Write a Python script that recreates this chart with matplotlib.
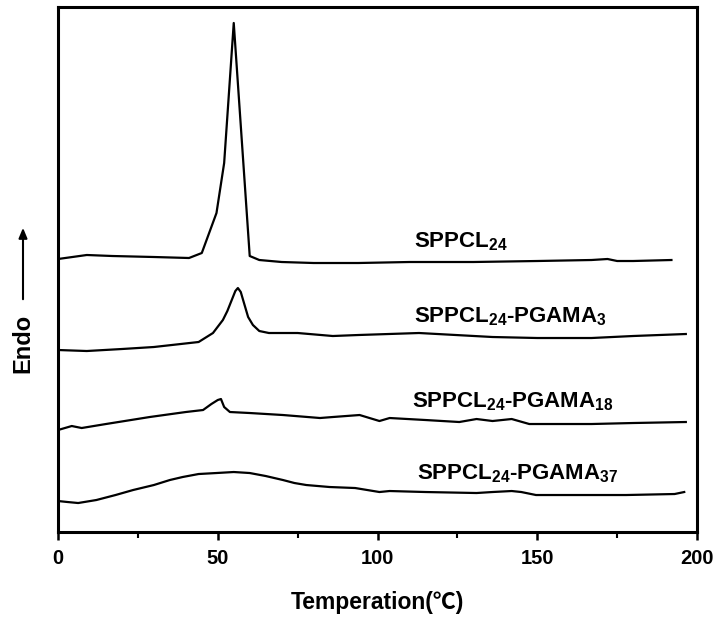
import matplotlib
matplotlib.use("Agg")
import matplotlib.pyplot as plt
from matplotlib.ticker import MultipleLocator

plt.rcParams['font.family'] = ['Liberation Sans', 'Noto Sans CJK SC', 'DejaVu Sans']
plt.rcParams['font.weight'] = 'bold'
plt.rcParams['mathtext.fontset'] = 'custom'
plt.rcParams['mathtext.rm'] = 'Liberation Sans:bold'
plt.rcParams['mathtext.bf'] = 'Liberation Sans:bold'
plt.rcParams['mathtext.it'] = 'Liberation Sans:bold'

# DSC traces (temperature in C, offset heat flow in arbitrary units)
t_pcl = [0, 9, 17, 30, 41, 45, 49.6, 52, 55, 60, 63, 70, 80, 94, 110, 130, 150, 167, 172, 175, 180, 192]
y_pcl = [273, 277, 276, 275, 274, 279, 319, 369, 509, 276, 272, 270, 269, 269, 270, 270, 271, 272, 273, 271, 271, 272]

t_g3 = [0, 9, 20, 30, 44, 48.5, 51.6, 53, 54.5, 55.5, 56.3, 57.2, 58.3, 59.5, 61, 63, 66, 75, 86, 94,
        113, 136, 150, 167, 180, 196.5]
y_g3 = [182, 181, 183, 185, 190, 199, 212, 221, 233, 241, 244, 240, 228, 215, 207, 201, 199, 199, 196, 197,
        199, 195, 194, 194, 196, 198]

t_g18 = [0, 4.3, 7.4, 15, 28.7, 40, 45.4, 48, 50, 51, 52, 53.8, 60, 70.4, 82, 86, 94.4, 100.6, 103.8,
         115, 125.6, 131, 136, 142, 147.5, 160, 167, 180, 196.5]
y_g18 = [102, 106, 104, 108, 115, 120, 122, 128, 132, 133, 125, 120, 119, 117, 114, 115, 117, 111, 114,
         112, 110, 113, 111, 113, 108, 108, 108, 109, 110]

t_g37 = [0, 3, 6.3, 12, 18, 23.5, 30, 35, 39, 44, 49.6, 55, 60, 65, 70.4, 74, 77.7, 85, 93,
         100.6, 103.8, 115, 131, 136, 142, 145, 149.6, 160, 177.8, 193, 196]
y_g37 = [31, 30, 29, 32, 37, 42, 47, 52, 55, 58, 59, 60, 59, 56, 52, 49, 47, 45, 44,
         40, 41, 40, 39, 40, 41, 40, 37, 37, 37, 38, 40]

labels = [r'SPPCL$_{24}$', r'SPPCL$_{24}$-PGAMA$_{3}$',
          r'SPPCL$_{24}$-PGAMA$_{18}$', r'SPPCL$_{24}$-PGAMA$_{37}$']
label_x = [111.5, 111.5, 110.8, 112.5]
label_y = [290, 215, 130, 58]

fig = plt.figure(figsize=(7.19, 6.24), dpi=100)
ax = fig.add_axes([0.0807, 0.1474, 0.8887, 0.8414])

for t, y in [(t_pcl, y_pcl), (t_g3, y_g3), (t_g18, y_g18), (t_g37, y_g37)]:
    ax.plot(t, y, color='black', linewidth=1.6)

for lx, ly, lab in zip(label_x, label_y, labels):
    ax.text(lx, ly, lab, fontsize=16, fontweight='bold', ha='left', va='center')

ax.set_xlim(0, 200)
ax.set_ylim(0, 525)
ax.xaxis.set_major_locator(MultipleLocator(50))
ax.xaxis.set_minor_locator(MultipleLocator(25))
ax.tick_params(axis='x', which='major', direction='out', length=6, width=1.8, labelsize=14.5, pad=6)
ax.tick_params(axis='x', which='minor', direction='out', length=4, width=1.5)
ax.set_yticks([])
for s in ax.spines.values():
    s.set_linewidth(2.2)
for lab in ax.get_xticklabels():
    lab.set_fontweight('bold')

ax.set_xlabel('Temperation(℃)', fontsize=16.5, fontweight='bold', labelpad=17)

# Endo label with upward arrow
fig.text(23 / 719, 1 - 343 / 624, 'Endo', rotation=90, fontsize=17, fontweight='bold',
         ha='center', va='center')
fig.add_artist(matplotlib.patches.FancyArrowPatch(
    (23 / 719, 1 - 302 / 624), (23 / 719, 1 - 225 / 624), transform=fig.transFigure,
    arrowstyle='-|>,head_length=6,head_width=2.5', color='black', linewidth=1.5))

fig.savefig('out.png', dpi=100)
